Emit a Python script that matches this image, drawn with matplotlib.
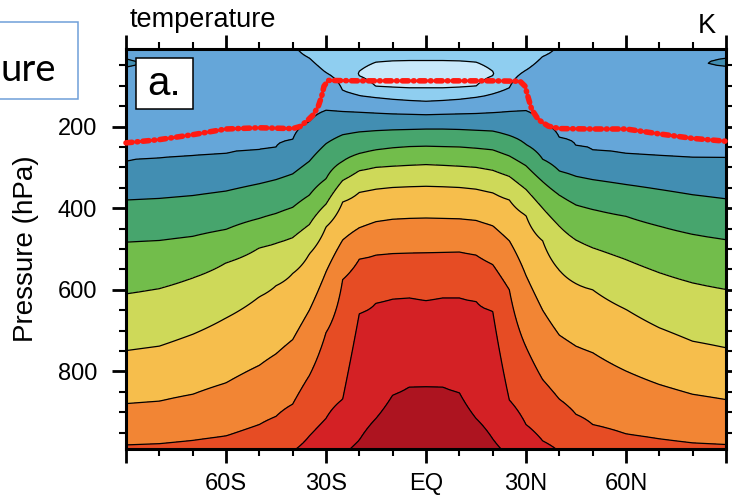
import numpy as np
import matplotlib.pyplot as plt
from matplotlib.patches import Rectangle

plt.rcParams['font.family'] = ['Liberation Sans', 'DejaVu Sans']

nan = np.nan

# latitude columns of the zonal-mean section (deg, south negative)
lat = [-90, -80, -70, -60, -50, -45, -40, -35, -30,
       -25, -20, -15, -10, -5, 0, 5, 10, 15, 20, 25,
       30, 35, 40, 45, 50, 60, 70, 80, 90]

# temperature (K) at the top level (10 hPa) and lowest level (990 hPa)
t_top = [217, 216, 216, 216, 215, 213, 210.8, 208, 206,
         205, 205, 205, 205, 205, 205, 205, 205, 205, 205, 205,
         206, 208, 210.8, 213, 215, 216, 216, 216, 217]
t_bottom = [281, 281.3, 282, 283, 284.5, 286.5, 289.5, 292, 295,
            298.8, 301.5, 303, 304, 304.8, 305, 304.8, 304, 303, 301.5, 298.5,
            295, 292, 289.5, 287, 285, 283, 282, 281.3, 281]

# pressure (hPa) at which each isotherm crosses a latitude column
p_210 = [nan, nan, nan, nan, nan, nan, nan, 32, 68,
         112, 124, 129, 133, 136, 138, 136, 133, 128, 120, 105,
         62, 28, nan, nan, nan, nan, nan, nan, nan]
p_220 = [285, 279, 273, 267, 258, 250, 232, 188, 160,
         163, 165, 167, 169, 170, 171, 170, 169, 168, 166, 163,
         161, 192, 227, 247, 259, 267, 272, 275, 278]
p_230 = [380, 376, 369, 358, 340, 330, 316, 285, 242,
         220, 213, 210, 208, 207, 206, 206, 207, 209, 211, 222,
         244, 280, 309, 322, 330, 342, 354, 367, 377]
p_240 = [483, 479, 469, 452, 425, 413, 398, 368, 328,
         285, 266, 257, 252, 249, 248, 249, 250, 253, 257, 272,
         296, 335, 368, 392, 403, 420, 444, 464, 477]
p_250 = [610, 597, 571, 534, 497, 486, 472, 440, 390,
         332, 308, 300, 297, 295, 293, 295, 297, 300, 307, 322,
         354, 400, 444, 478, 497, 526, 558, 583, 599]
p_260 = [749, 738, 709, 669, 617, 590, 560, 512, 446,
         385, 361, 353, 349, 347, 346, 347, 349, 353, 362, 380,
         418, 480, 552, 585, 600, 648, 693, 726, 742]
p_270 = [879, 873, 856, 828, 785, 757, 722, 650, 556,
         478, 448, 433, 427, 425, 424, 425, 426, 430, 443, 480,
         565, 650, 711, 738, 754, 799, 832, 856, 869]
p_280 = [980, 977, 969, 958, 930, 910, 880, 810, 705,
         575, 525, 515, 511, 510, 509, 508, 507, 515, 538, 600,
         740, 820, 868, 905, 930, 953, 965, 975, 979]
p_290 = [nan, nan, nan, nan, nan, nan, nan, 958, 915,
         868, 658, 632, 622, 620, 626, 620, 620, 628, 652, 870,
         930, 970, nan, nan, nan, nan, nan, nan, nan]
p_300 = [nan, nan, nan, nan, nan, nan, nan, nan, nan,
         nan, 968, 915, 858, 838, 837, 838, 852, 915, 965, nan,
         nan, nan, nan, nan, nan, nan, nan, nan, nan]

# cold pool above the tropical tropopause: 200 K crossings and core value
P_CORE = 72
p_cold_top = [nan, nan, nan, nan, nan, nan, nan, nan, nan,
              nan, nan, 42, 39, 38, 38, 38, 39, 42, nan, nan,
              nan, nan, nan, nan, nan, nan, nan, nan, nan]
p_cold_bot = [nan, nan, nan, nan, nan, nan, nan, nan, nan,
              nan, nan, 102, 104, 105, 105, 105, 104, 101, nan, nan,
              nan, nan, nan, nan, nan, nan, nan, nan, nan]
t_core = [nan, nan, nan, nan, nan, nan, nan, nan, nan,
          nan, 199.3, 196, 195, 195, 195, 195, 195, 196, 199.3, nan,
          nan, nan, nan, nan, nan, nan, nan, nan, nan]

# small warm pockets near the top at the two poles
pole_s_p = [30, 45, 62]
pole_s_t = [219, 222.5, 218]
pole_n_p = [30, 44, 56]
pole_n_t = [219, 224.5, 218]

# tropopause height
trop_lat = [-90, -80, -70, -60, -50, -40, -37.8, -35.8, -33.8, -32.3, -31.3,
            -30.6, -29.3, -20, -10, 0, 10, 20, 28.2, 29.7, 30.7, 31.7, 33.7,
            36.7, 40, 50, 60, 70, 80, 90]
trop_p = [240, 232, 220, 206, 203, 205, 200, 187, 171, 150, 126,
          101, 87, 88, 88, 88, 88, 88, 89, 101, 130, 158, 183,
          199, 205, 206, 206, 218, 229, 236]

band_levels = [180, 200, 210, 220, 230, 240, 250, 260, 270, 280, 290, 300, 320]
line_levels = [200, 210, 220, 230, 240, 250, 260, 270, 280, 290, 300]
band_colors = ['#c8e8fa', '#8fcef0', '#65a6d9', '#428eb2', '#47a56d', '#72bd4b',
               '#ced959', '#f6be4c', '#f28534', '#e64c24', '#d42125', '#ad1420']


def build_field():
    """Temperature on a pressure grid, column by column from the isotherm crossings."""
    plev = np.arange(10, 991, 5.0)
    temp = np.zeros((plev.size, len(lat)))
    isotherms = [(210, p_210), (220, p_220), (230, p_230), (240, p_240),
                 (250, p_250), (260, p_260), (270, p_270), (280, p_280),
                 (290, p_290), (300, p_300)]
    for j in range(len(lat)):
        knots = [(10.0, t_top[j]), (990.0, t_bottom[j])]
        for t, row in isotherms:
            if not np.isnan(row[j]):
                knots.append((row[j], t))
        if not np.isnan(t_core[j]):
            knots.append((P_CORE, t_core[j]))
        for pc in (p_cold_top[j], p_cold_bot[j]):
            if not np.isnan(pc):
                knots.append((pc, 200))
        if j == 0:
            knots += list(zip(pole_s_p, pole_s_t))
        if j == len(lat) - 1:
            knots += list(zip(pole_n_p, pole_n_t))
        knots.sort()
        pk, tk = zip(*knots)
        temp[:, j] = np.interp(plev, pk, tk)
    return plev, temp


W, H = 732, 501
fig = plt.figure(figsize=(W / 100, H / 100), dpi=100)
ax = fig.add_axes([126 / W, 1 - 449 / H, 600 / W, 400 / H])

plev, temp = build_field()
ax.contourf(lat, plev, temp, levels=band_levels, colors=band_colors)
ax.contour(lat, plev, temp, levels=line_levels, colors='k', linewidths=0.9)

ax.plot(trop_lat, trop_p, color='#ff1a12', lw=4,
        linestyle=(0, (1.1, 0.9, 0.15, 0.9)), dash_capstyle='round',
        clip_on=False, zorder=5)

ax.set_xlim(-90, 90)
ax.set_ylim(990, 10)
ax.set_xticks([-90, -60, -30, 0, 30, 60, 90])
ax.set_xticklabels(['', '60S', '30S', 'EQ', '30N', '60N', ''])
ax.set_xticks(np.arange(-90, 91, 10), minor=True)
ax.set_yticks([200, 400, 600, 800])
ax.set_yticks(np.arange(50, 990, 50), minor=True)
ax.tick_params(which='both', direction='out', top=True, right=True)
ax.tick_params(which='major', length=10, width=2.0, labelsize=17)
ax.tick_params(which='minor', length=5, width=1.5)
ax.tick_params(axis='x', which='major', pad=7.5)
ax.tick_params(axis='y', which='major', pad=10.8)
for s in ax.spines.values():
    s.set_linewidth(2.2)

# panel label
ax.add_patch(Rectangle((10 / 600, 0.85), 57 / 600, 0.1275, transform=ax.transAxes,
                       fc='white', ec='black', lw=1.1, zorder=6))
ax.text(38 / 600, 1 - 46 / 400, 'a.', transform=ax.transAxes, ha='center',
        va='baseline', fontsize=29, zorder=7)

fig.text(130 / W, 1 - 26.7 / H, 'temperature', fontsize=19.5, va='baseline')
fig.text(716 / W, 1 - 33 / H, 'K', fontsize=19.5, ha='right', va='baseline')
fig.text(26 / W, 1 - 248.5 / H, 'Pressure (hPa)', rotation=90,
         ha='center', va='center', fontsize=20)

# slide text box at the upper left
fig.add_artist(Rectangle((-5 / W, 1 - 99 / H), 83 / W, 77.3 / H,
                         transform=fig.transFigure, fc='white', ec='#6f9fd8', lw=1.1))
fig.text(56 / W, 1 - 80.7 / H, 'ure', family=['Lato', 'DejaVu Sans'],
         fontsize=27.5, ha='right', va='baseline')

fig.savefig('out.png', dpi=100)
